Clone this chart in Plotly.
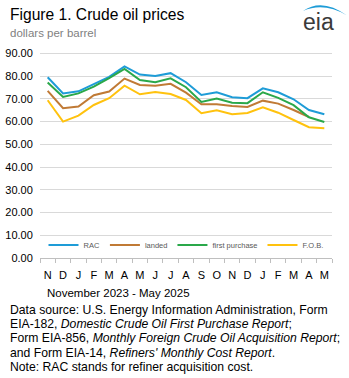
import plotly.graph_objects as go

# ---- data ----
months = ["2023-11", "2023-12", "2024-01", "2024-02", "2024-03", "2024-04", "2024-05",
          "2024-06", "2024-07", "2024-08", "2024-09", "2024-10", "2024-11", "2024-12",
          "2025-01", "2025-02", "2025-03", "2025-04", "2025-05"]
tick_labels = ["N", "D", "J", "F", "M", "A", "M", "J", "J", "A", "S", "O", "N", "D",
               "J", "F", "M", "A", "M"]
rac = [79.5, 72.4, 73.3, 76.4, 79.7, 84.3, 80.7, 80.1, 81.3, 77.3, 71.7, 72.9, 70.7,
       70.3, 74.6, 72.9, 69.8, 65.1, 63.2]
landed = [73.5, 65.9, 66.6, 71.6, 73.2, 78.9, 76.1, 75.8, 76.6, 72.7, 67.6, 67.6, 66.9,
          66.4, 69.2, 67.9, 65.1, 62.0, None]
first_purchase = [77.2, 70.8, 72.4, 75.4, 79.1, 83.2, 78.3, 77.3, 79.0, 75.1, 68.6, 70.1,
                  68.3, 68.1, 72.9, 70.4, 67.2, 61.9, 59.8]
fob = [69.4, 60.0, 62.6, 67.3, 70.3, 75.8, 72.0, 73.0, 72.1, 69.5, 63.7, 65.0, 63.2,
       63.8, 66.3, 63.9, 60.7, 57.5, 57.1]
y_ticks = [0, 10, 20, 30, 40, 50, 60, 70, 80, 90]

series = [
    ("RAC", rac, "#1e9cd7"),
    ("landed", landed, "#c07a35"),
    ("first purchase", first_purchase, "#2aa84a"),
    ("F.O.B.", fob, "#ffc20e"),
]

W, H = 349, 378
Y_MAX = 95
Y90_PX = 53.8          # pixel row of the 90 gridline
L, R, B = 40, 332, 258
T = B - Y_MAX * (B - Y90_PX) / 90


def px(x):
    return (x - L) / (R - L)


def py(y):
    return (B - y) / (B - T)


fig = go.Figure()
for name, vals, color in series:
    fig.add_trace(go.Scatter(x=months, y=vals, name=name, mode="lines",
                             line=dict(color=color, width=2), connectgaps=False))

FONT = "Liberation Sans, Arial, sans-serif"

annotations = [
    dict(text="Figure 1. Crude oil prices", x=px(8), y=py(15), xanchor="left", yanchor="middle",
         font=dict(size=15.6, color="#000000", family=FONT)),
    dict(text="dollars per barrel", x=px(8), y=py(33), xanchor="left", yanchor="middle",
         font=dict(size=11.5, color="#7f7f7f", family=FONT)),
    dict(text="eia", x=px(318), y=py(22), xanchor="center", yanchor="middle",
         font=dict(size=23, color="#3a3a3a", family=FONT)),
    dict(text="November 2023 - May 2025", x=px(45), y=py(293), xanchor="left", yanchor="middle",
         font=dict(size=11.5, color="#000000", family=FONT)),
]
notes = [
    "Data source: U.S. Energy Information Administration, Form",
    "EIA-182, <i>Domestic Crude Oil First Purchase Report</i>;",
    "Form EIA-856, <i>Monthly Foreign Crude Oil Acquisition Report</i>;",
    "and Form EIA-14, <i>Refiners' Monthly Cost Report</i>.",
    "Note: RAC stands for refiner acquisition cost.",
]
for i, line in enumerate(notes):
    annotations.append(dict(text=line, x=px(8), y=py(309.5 + 14.4 * i), xanchor="left",
                            yanchor="middle",
                            font=dict(size=12.2, color="#000000", family=FONT)))
for a in annotations:
    a.update(xref="paper", yref="paper", showarrow=False)


def pt(x, y):
    return f"{px(x):.4f},{py(y):.4f}"


arc_path = (f"M {pt(303, 11.5)} Q {pt(322, -2)} {pt(347, 16)} "
            f"Q {pt(324, 2.5)} {pt(303, 11.5)} Z")

fig.update_layout(
    width=W, height=H,
    margin=dict(l=L, r=W - R, t=T, b=H - B, pad=0, autoexpand=False),
    paper_bgcolor="white", plot_bgcolor="white",
    font=dict(family=FONT, color="#000000"),
    showlegend=True,
    legend=dict(orientation="h", x=0.5, xanchor="center", y=py(245), yanchor="middle",
                font=dict(size=7.5, color="#595959", family=FONT),
                bgcolor="rgba(0,0,0,0)", itemwidth=30, tracegroupgap=0),
    annotations=annotations,
    shapes=[dict(type="path", path=arc_path, xref="paper", yref="paper",
                 fillcolor="#1e9cd7", line=dict(width=0))],
    xaxis=dict(type="category", categoryorder="array", categoryarray=months,
               tickmode="array", tickvals=months, ticktext=tick_labels,
               range=[-0.5, len(months) - 0.5], tickson="boundaries",
               ticks="outside", ticklen=4, tickcolor="#bfbfbf", tickangle=0,
               ticklabelstandoff=7,
               showline=True, linecolor="#bfbfbf", linewidth=1,
               showgrid=False, zeroline=False, automargin=False,
               tickfont=dict(size=11, color="#000000", family=FONT)),
    yaxis=dict(range=[0, Y_MAX], tickmode="array", tickvals=y_ticks, tickformat=".2f",
               showgrid=True, gridcolor="#d9d9d9", gridwidth=1, zeroline=False,
               showline=False, ticks="outside", ticklen=4, tickcolor="rgba(0,0,0,0)",
               automargin=False,
               tickfont=dict(size=11, color="#000000", family=FONT)),
)

fig.write_html("out.html")
